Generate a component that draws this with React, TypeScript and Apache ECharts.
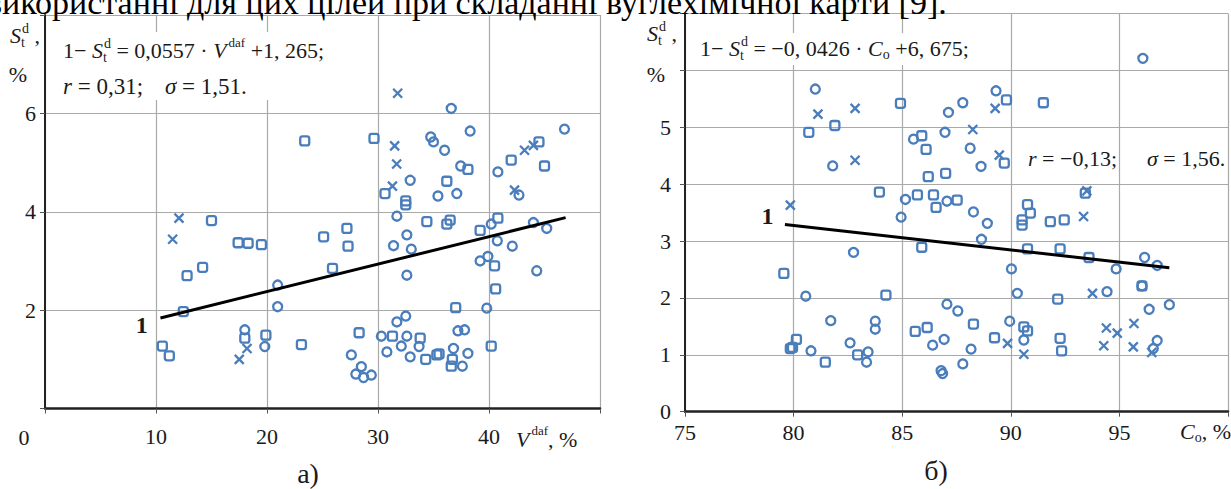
import React, { useEffect, useRef } from 'react';
import * as echarts from 'echarts';

type P = [number, number];

// ---------- panel a): S_t^d vs V^daf ----------
const leftCircles: P[] = [
  [20.96, 2.51], [20.96, 2.07], [18.0, 1.6], [19.8, 1.26],
  [36.6, 6.1], [34.75, 5.52], [35.0, 5.42], [36.0, 5.25], [38.3, 5.64], [37.45, 4.93], [32.9, 4.64], [35.4, 4.32],
  [37.1, 4.37], [31.7, 3.91], [40.2, 3.75], [40.8, 4.81], [46.8, 5.68], [42.7, 4.34], [44.0, 3.78], [45.2, 3.66],
  [32.6, 3.53], [31.4, 3.31], [33.0, 3.24], [32.6, 2.71], [40.75, 3.41], [42.1, 3.3], [39.2, 3.0], [39.9, 3.09],
  [44.3, 2.8], [39.8, 2.04],
  [27.6, 1.09], [28.5, 0.85], [28.0, 0.7], [28.7, 0.63], [29.4, 0.68], [30.3, 1.47], [32.6, 1.47], [31.7, 1.76],
  [32.5, 1.88], [30.8, 1.15], [32.1, 1.27], [33.7, 1.26], [32.9, 1.05], [36.8, 1.22], [37.6, 0.86], [38.1, 1.12],
  [37.2, 1.58], [37.8, 1.6],
];
const leftSquares: P[] = [
  [15.0, 3.82], [17.4, 3.37], [18.3, 3.36], [19.5, 3.33], [14.2, 2.87], [12.8, 2.7], [12.46, 1.97], [10.57, 1.27],
  [11.2, 1.07], [18.0, 1.43], [19.9, 1.49], [23.1, 1.3], [23.4, 5.44],
  [29.64, 5.49], [38.1, 4.86], [36.2, 4.62], [30.63, 4.37], [32.5, 4.22], [32.5, 4.14], [34.4, 3.8], [36.5, 3.83],
  [36.2, 3.75], [27.2, 3.66], [39.2, 3.62], [40.8, 3.87], [42.0, 5.05], [44.5, 5.42], [45.0, 4.93],
  [25.1, 3.49], [27.3, 3.3], [25.9, 2.85], [40.5, 2.9], [40.6, 2.43], [37.0, 2.05], [28.3, 1.54], [31.3, 1.47],
  [33.8, 1.43], [34.3, 1.0], [35.3, 1.09], [35.5, 1.11], [36.7, 1.0], [36.6, 0.86], [40.2, 1.27],
];
const leftCrosses: P[] = [
  [12.07, 3.87], [11.5, 3.44], [18.2, 1.22], [17.5, 1.0], [31.77, 6.41], [31.5, 5.34], [31.68, 4.97], [31.3, 4.52],
  [43.2, 5.25], [44.0, 5.35], [42.3, 4.44],
];
const leftTrend: P[] = [[10.4, 1.84], [46.9, 3.88]];
const leftXLabels = [10, 20, 30, 40];
const leftYLabels = [2, 4, 6];

// ---------- panel б): S_t^d vs C_o ----------
const rightCircles: P[] = [
  [81.0, 5.67], [81.8, 4.32], [85.52, 4.79], [85.15, 3.73], [84.95, 3.42],
  [96.08, 6.21], [89.32, 5.64], [87.79, 5.43], [87.13, 5.26], [86.97, 4.91], [88.13, 4.63], [88.63, 4.31],
  [87.06, 3.7], [88.28, 3.51], [88.92, 3.31], [88.65, 3.03],
  [96.16, 2.71], [96.74, 2.57], [94.85, 2.51], [90.03, 2.51], [90.3, 2.08], [94.43, 2.11], [96.04, 2.21],
  [96.37, 1.8], [97.3, 1.88], [87.06, 1.89], [87.56, 1.77], [86.93, 1.27], [86.4, 1.17], [88.17, 1.1],
  [87.79, 0.84], [86.79, 0.72], [86.86, 0.67], [89.95, 1.59], [90.6, 1.26], [96.74, 1.25], [96.56, 1.11],
  [82.76, 2.8], [80.56, 2.03], [81.71, 1.6], [83.76, 1.59], [83.76, 1.45], [80.8, 1.07], [82.6, 1.21],
  [83.43, 1.05], [83.36, 0.87],
];
const rightSquares: P[] = [
  [80.7, 4.91], [81.9, 5.03], [84.92, 5.42], [85.9, 4.85], [86.1, 4.61], [86.2, 4.13], [83.95, 3.86], [85.7, 3.81],
  [89.8, 5.48], [91.5, 5.43], [89.7, 4.37], [87.0, 4.19], [86.44, 3.81], [86.56, 3.59], [87.53, 3.72],
  [90.77, 3.64], [90.9, 3.49], [90.52, 3.37], [90.52, 3.28], [91.82, 3.34], [92.46, 3.37], [93.43, 3.84],
  [85.9, 2.89], [90.77, 2.86], [92.27, 2.86], [93.6, 2.71], [92.16, 1.98], [96.04, 2.21], [88.28, 1.54],
  [86.15, 1.48], [85.6, 1.41], [89.25, 1.3], [90.6, 1.49], [90.77, 1.42], [92.27, 1.29], [92.34, 1.07],
  [79.55, 2.43], [84.25, 2.05], [80.13, 1.27], [79.85, 1.11], [79.95, 1.13], [81.46, 0.87], [82.95, 1.0],
];
const rightCrosses: P[] = [
  [81.12, 5.23], [82.83, 5.33], [82.83, 4.42], [79.85, 3.63], [89.28, 5.33], [88.25, 4.96], [89.47, 4.51],
  [93.35, 3.43], [93.5, 3.88], [93.76, 2.08], [89.85, 1.2], [90.6, 1.01], [94.4, 1.47], [94.9, 1.38],
  [94.28, 1.16], [95.67, 1.55], [95.64, 1.14], [96.49, 1.04],
];
const rightTrend: P[] = [[79.6, 3.29], [97.3, 2.53]];
const rightXLabels = [75, 80, 85, 90, 95];
const rightYLabels = [0, 1, 2, 3, 4, 5];

const BLUE = '#4a7dbb';
const INK = '#1a1a1a';
const GRIDC = '#a9a9a9';
const SERIF = "'Liberation Serif', 'Times New Roman', serif";

type Piece = { t: string; it?: boolean; b?: boolean; fs?: number; dy?: number; dx?: number; stack?: boolean };

function formula(pieces: Piece[], x0: number, yMid: number, base = 22, z = 10): any[] {
  const c = document.createElement('canvas').getContext('2d') as CanvasRenderingContext2D;
  let x = x0;
  let stackW = 0;
  const out: any[] = [];
  for (const p of pieces) {
    const fs = p.fs ?? base;
    const fStyle = p.it ? 'italic' : 'normal';
    const fWeight = p.b ? 'bold' : 'normal';
    c.font = `${fStyle} ${fWeight} ${fs}px ${SERIF}`;
    const w = c.measureText(p.t).width + (p.dx ?? 0);
    out.push({
      type: 'text',
      x: x + (p.dx ?? 0),
      y: yMid + (p.dy ?? 0),
      z,
      silent: true,
      style: {
        text: p.t,
        fontSize: fs,
        fontFamily: SERIF,
        fontStyle: fStyle,
        fontWeight: fWeight,
        fill: INK,
        align: 'left',
        verticalAlign: 'middle',
      },
    });
    if (p.stack) {
      stackW = Math.max(stackW, w);
    } else {
      x += Math.max(w, stackW);
      stackW = 0;
    }
  }
  return out;
}

function label(text: string, x: number, y: number, fs: number, bold = false, align = 'center'): any {
  return {
    type: 'text', x, y, z: 10, silent: true,
    style: { text, fontSize: fs, fontFamily: SERIF, fontWeight: bold ? 'bold' : 'normal', fill: INK, align, verticalAlign: 'middle' },
  };
}

function scatter(data: P[], symbol: string, size: number, idx: number): any {
  return {
    type: 'scatter', data, symbol, symbolSize: size, xAxisIndex: idx, yAxisIndex: idx, silent: true, z: 3,
    itemStyle: { color: 'rgba(255,255,255,0)', borderColor: BLUE, borderWidth: 2.3, opacity: 1 },
  };
}

const CROSS = 'path://M0,0L10,10M10,0L0,10';

const tickLabel = { fontFamily: SERIF, fontSize: 22, color: INK };

function xAxis(idx: number, min: number, max: number, interval: number, shown: number[], margin: number): any {
  return {
    gridIndex: idx, type: 'value', min, max, interval,
    axisLine: { show: true, onZero: false, lineStyle: { color: '#222', width: 2.5 } },
    axisTick: { show: true, length: 5, lineStyle: { color: '#555', width: 1 } },
    axisLabel: { ...tickLabel, margin, formatter: (v: number) => (shown.includes(v) ? String(v) : '') },
    splitLine: { show: true, lineStyle: { color: GRIDC, width: 1.2 } },
  };
}
function yAxis(idx: number, min: number, max: number, interval: number, shown: number[], margin: number): any {
  return {
    gridIndex: idx, type: 'value', min, max, interval,
    axisLine: { show: true, onZero: false, lineStyle: { color: '#222', width: 2 } },
    axisTick: { show: true, length: 5, lineStyle: { color: '#555', width: 1 } },
    axisLabel: { ...tickLabel, margin, formatter: (v: number) => (shown.includes(v) ? String(v) : '') },
    splitLine: { show: true, lineStyle: { color: GRIDC, width: 1.2 } },
  };
}

export default function App() {
  const ref = useRef<HTMLDivElement>(null);
  useEffect(() => {
    if (!ref.current) return;
    const chart = echarts.init(ref.current, undefined, { renderer: 'svg' });

    const Sd = (fs = 14): Piece[] => [
      { t: 'S', it: true },
      { t: 'd', fs, dy: -7, dx: 1, stack: true },
      { t: 't', fs, dy: 7 },
    ];

    const elements: any[] = [
      // white text boxes behind the equations
      { type: 'rect', z: 1, silent: true, shape: { x: 55, y: 32, width: 305, height: 68 }, style: { fill: '#fff' } },
      { type: 'rect', z: 1, silent: true, shape: { x: 694, y: 33, width: 292, height: 32 }, style: { fill: '#fff' } },
      // cut-off running text above the figure
      { type: 'text', x: -14, y: 2.5, z: 10, silent: true,
        style: { text: 'використанні для цих цілей при складанні вуглехімічної карти [9].', fontSize: 34, fontFamily: SERIF, fill: '#000', align: 'left', verticalAlign: 'middle' } },
      // left equations
      ...formula([{ t: '1− ' }, ...Sd(), { t: ' = 0,0557 · ' }, { t: 'V', it: true }, { t: 'daf', fs: 13, dy: -8, dx: 2 }, { t: ' +1, 265;' }], 63, 50, 22),
      ...formula([{ t: 'r', it: true }, { t: ' = 0,31;' }], 63, 86, 23),
      ...formula([{ t: 'σ', it: true }, { t: ' = 1,51.' }], 165, 86, 23),
      // right equations
      ...formula([{ t: '1− ' }, ...Sd(), { t: ' = −0, 0426 · ' }, { t: 'C', it: true }, { t: 'o', fs: 14, dy: 6 }, { t: ' +6, 675;' }], 700, 48, 22),
      ...formula([{ t: 'r', it: true }, { t: ' = −0,13;' }], 1028, 158, 22),
      ...formula([{ t: 'σ', it: true }, { t: ' = 1,56.' }], 1147, 158, 22),
      // axis titles
      ...formula([...Sd(), { t: ' ,' }], 10, 35),
      label('%', 18, 74, 22),
      ...formula([...Sd(), { t: ' ,' }], 647, 33.5),
      label('%', 656, 74, 22),
      ...formula([{ t: 'V', it: true }, { t: 'daf', fs: 13, dy: -9, dx: 2 }, { t: ', %' }], 516, 439),
      ...formula([{ t: 'C', it: true }, { t: 'o', fs: 14, dy: 6 }, { t: ', %' }], 1180, 431),
      // zero of left panel
      label('0', 24, 437, 22),
      // trend labels
      label('1', 141.7, 325, 24, true),
      label('1', 767.5, 215.5, 24, true),
      // panel captions
      label('а)', 308, 473, 28),
      label('б)', 936, 470, 28),
    ];

    chart.setOption({
      animation: false,
      grid: [
        { left: 45, top: 15, width: 555, height: 393.5 },
        { left: 685, top: 13.4, width: 558.5, height: 398.3 },
      ],
      xAxis: [
        xAxis(0, 0, 50, 10, leftXLabels, 17),
        xAxis(1, 75, 100, 5, rightXLabels, 10),
      ],
      yAxis: [
        yAxis(0, 0, 8, 2, leftYLabels, 9),
        yAxis(1, 0, 7, 1, rightYLabels, 14),
      ],
      series: [
        scatter(leftCircles, 'circle', 9, 0),
        scatter(leftSquares, 'roundRect', 9, 0),
        scatter(leftCrosses, CROSS, 9, 0),
        { type: 'line', data: leftTrend, xAxisIndex: 0, yAxisIndex: 0, symbol: 'none', silent: true, z: 4, lineStyle: { color: '#000', width: 3 } },
        scatter(rightCircles, 'circle', 9, 1),
        scatter(rightSquares, 'roundRect', 9, 1),
        scatter(rightCrosses, CROSS, 9, 1),
        { type: 'line', data: rightTrend, xAxisIndex: 1, yAxisIndex: 1, symbol: 'none', silent: true, z: 4, lineStyle: { color: '#000', width: 3 } },
      ],
      graphic: { elements },
    });
    return () => chart.dispose();
  }, []);

  return (
    <div
      ref={ref}
      style={{ position: 'fixed', left: 0, top: 0, width: 1231, height: 489, background: '#fff' }}
    />
  );
}
